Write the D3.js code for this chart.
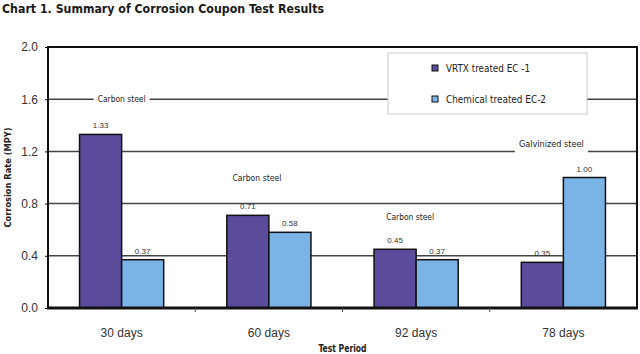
<!DOCTYPE html>
<html>
<head>
<meta charset="utf-8">
<script src="https://cdn.jsdelivr.net/npm/d3@7"></script>
<style>
  body { margin: 0; background: #fff; }
  text { font-family: "Liberation Sans", Arial, sans-serif; }
  .cond { font-family: "DejaVu Sans Condensed", "DejaVu Sans", sans-serif; }
</style>
</head>
<body>
<div id="chart"></div>
<script>
// Chart data
const categories = ["30 days", "60 days", "92 days", "78 days"];
const seriesNames = ["VRTX treated EC -1", "Chemical treated EC-2"];
const vrtx = [1.33, 0.71, 0.45, 0.35];
const chemical = [0.37, 0.58, 0.37, 1.00];
const yTicks = [0, 0.4, 0.8, 1.2, 1.6, 2.0];
const steelNotes = ["Carbon steel", "Carbon steel", "Carbon steel", "Galvinized steel"];

const width = 640, height = 354;
const margin = { top: 47, right: 3, bottom: 46, left: 48 };
const colors = ["#5a4b9b", "#7ab3e6"];

const svg = d3.select("#chart")
  .append("svg")
  .attr("width", width)
  .attr("height", height);

svg.append("rect").attr("width", width).attr("height", height).attr("fill", "#fff");

// Title
svg.append("text")
  .attr("class", "cond")
  .attr("x", 2)
  .attr("y", 13)
  .attr("font-size", 13)
  .attr("font-weight", "bold")
  .attr("fill", "#1a1a1a")
  .attr("textLength", 322)
  .attr("lengthAdjust", "spacingAndGlyphs")
  .text("Chart 1. Summary of Corrosion Coupon Test Results");

const x = d3.scaleBand()
  .domain(categories)
  .range([margin.left, width - margin.right]);

const xInner = d3.scaleBand()
  .domain(seriesNames)
  .range([0, x.bandwidth()])
  .paddingOuter(0.75)
  .paddingInner(0);

const y = d3.scaleLinear()
  .domain([0, 2.0])
  .range([height - margin.bottom, margin.top]);

// Gridlines
svg.append("g")
  .selectAll("line")
  .data(yTicks.filter(d => d > 0 && d < 2))
  .enter()
  .append("line")
  .attr("x1", margin.left)
  .attr("x2", width - margin.right)
  .attr("y1", d => y(d))
  .attr("y2", d => y(d))
  .attr("stroke", "#444")
  .attr("stroke-width", 1.5);

// Steel annotations (white background cuts the gridline)
const notePos = [
  { v: 1.6, dx: 0, w: 48 },
  { v: 1.0, dx: -12, w: 49 },
  { v: 0.7, dx: -6, w: 48 },
  { v: 1.26, dx: -12, w: 65 }
];
steelNotes.forEach((t, i) => {
  const p = notePos[i];
  const cx = x(categories[i]) + x.bandwidth() / 2 + p.dx;
  const cy = y(p.v);
  svg.append("rect")
    .attr("x", cx - p.w / 2 - 4)
    .attr("y", cy - 7)
    .attr("width", p.w + 8)
    .attr("height", i === 3 ? 17 : 13)
    .attr("fill", "#fff");
  svg.append("text")
    .attr("class", "cond")
    .attr("x", cx)
    .attr("y", cy + 3)
    .attr("text-anchor", "middle")
    .attr("font-size", 9.5)
    .attr("fill", "#222")
    .attr("textLength", p.w)
    .attr("lengthAdjust", "spacingAndGlyphs")
    .text(t);
});

// Bars
const rows = categories.map((c, i) => ({ cat: c, values: [vrtx[i], chemical[i]] }));

const groups = svg.append("g")
  .selectAll("g")
  .data(rows)
  .enter()
  .append("g")
  .attr("transform", d => `translate(${x(d.cat)},0)`);

groups.selectAll("rect")
  .data(d => d.values.map((v, j) => ({ name: seriesNames[j], v, j })))
  .enter()
  .append("rect")
  .attr("x", d => xInner(d.name))
  .attr("y", d => y(d.v))
  .attr("width", xInner.bandwidth())
  .attr("height", d => y(0) - y(d.v))
  .attr("fill", d => colors[d.j])
  .attr("stroke", "#111")
  .attr("stroke-width", 1.5);

groups.selectAll("text")
  .data(d => d.values.map((v, j) => ({ name: seriesNames[j], v, j })))
  .enter()
  .append("text")
  .attr("x", d => xInner(d.name) + xInner.bandwidth() / 2)
  .attr("y", d => y(d.v) - 6)
  .attr("text-anchor", "middle")
  .attr("font-size", 8)
  .attr("fill", "#333")
  .text(d => d.v.toFixed(2));

// Frame
svg.append("rect")
  .attr("x", margin.left)
  .attr("y", margin.top)
  .attr("width", width - margin.left - margin.right)
  .attr("height", height - margin.top - margin.bottom)
  .attr("fill", "none")
  .attr("stroke", "#111")
  .attr("stroke-width", 2);

svg.append("line")
  .attr("x1", margin.left - 1).attr("x2", width - margin.right + 1)
  .attr("y1", y(0)).attr("y2", y(0))
  .attr("stroke", "#111").attr("stroke-width", 3);

// Y axis
const yAxis = svg.append("g")
  .attr("transform", `translate(${margin.left},0)`)
  .call(d3.axisLeft(y).tickValues(yTicks).tickFormat(d3.format(".1f")).tickSize(3).tickPadding(7));
yAxis.select(".domain").remove();
yAxis.selectAll("text").attr("font-size", 12).attr("fill", "#333").style("font-family", "Liberation Sans, Arial, sans-serif");
yAxis.selectAll("line").attr("stroke", "#111");

// X axis
const xAxis = svg.append("g")
  .attr("transform", `translate(0,${y(0)})`)
  .call(d3.axisBottom(x).tickSize(0).tickPadding(20));
xAxis.select(".domain").remove();
xAxis.selectAll("text").attr("font-size", 12).attr("fill", "#333").style("font-family", "Liberation Sans, Arial, sans-serif");

svg.append("g")
  .selectAll("line")
  .data(categories.slice(1))
  .enter()
  .append("line")
  .attr("x1", d => x(d))
  .attr("x2", d => x(d))
  .attr("y1", y(0))
  .attr("y2", y(0) + 4)
  .attr("stroke", "#555");

// Axis titles
svg.append("text")
  .attr("class", "cond")
  .attr("x", (margin.left + width - margin.right) / 2)
  .attr("y", 352)
  .attr("text-anchor", "middle")
  .attr("font-size", 10)
  .attr("font-weight", "bold")
  .attr("fill", "#222")
  .attr("textLength", 48)
  .attr("lengthAdjust", "spacingAndGlyphs")
  .text("Test Period");

svg.append("text")
  .attr("class", "cond")
  .attr("transform", `translate(11,${(margin.top + y(0)) / 2}) rotate(-90)`)
  .attr("text-anchor", "middle")
  .attr("font-size", 9.5)
  .attr("font-weight", "bold")
  .attr("fill", "#222")
  .attr("textLength", 100)
  .attr("lengthAdjust", "spacingAndGlyphs")
  .text("Corrosion Rate (MPY)");

// Legend
const legend = svg.append("g").attr("transform", "translate(388,53)");
legend.append("rect")
  .attr("width", 199)
  .attr("height", 61)
  .attr("fill", "#fff")
  .attr("stroke", "#ccc");
const legendW = [84, 100];
seriesNames.forEach((name, i) => {
  const row = legend.append("g").attr("transform", `translate(44,${15 + i * 31})`);
  row.append("rect")
    .attr("x", 0).attr("y", -3)
    .attr("width", 6).attr("height", 6)
    .attr("fill", colors[i])
    .attr("stroke", "#111");
  row.append("text")
    .attr("class", "cond")
    .attr("x", 14)
    .attr("y", 4)
    .attr("font-size", 11)
    .attr("fill", "#222")
    .attr("textLength", legendW[i])
    .attr("lengthAdjust", "spacingAndGlyphs")
    .text(name);
});
</script>
</body>
</html>
